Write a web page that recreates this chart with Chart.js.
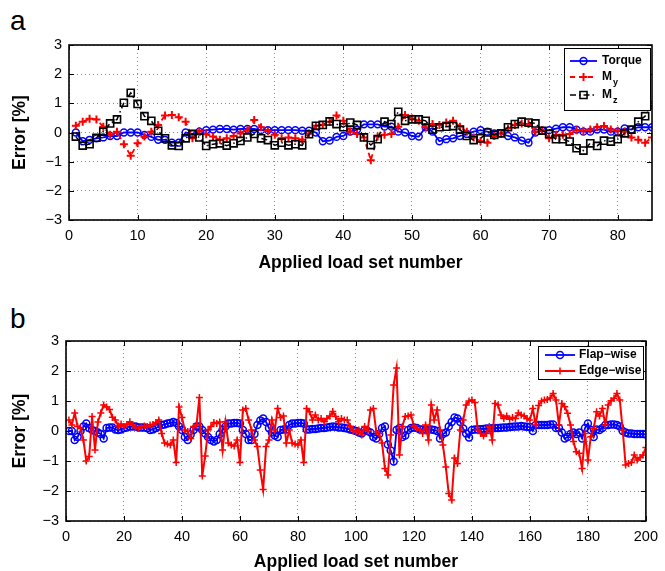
<!DOCTYPE html>
<html>
<head>
<meta charset="utf-8">
<script src="https://cdn.jsdelivr.net/npm/chart.js@4.4.1/dist/chart.umd.min.js"></script>
<style>
body { margin:0; background:#fff; width:665px; height:571px; overflow:hidden; position:relative; font-family:"Liberation Sans", Arial, sans-serif; }
canvas { position:absolute; left:0; }
#c1 { top:0; }
#c2 { top:285px; }
.panel { position:absolute; left:10px; font-size:28px; line-height:1; color:#000; }
</style>
</head>
<body>
<div class="panel" style="top:7px">a</div>
<div class="panel" style="top:305px">b</div>
<canvas id="c1" width="665" height="285"></canvas>
<canvas id="c2" width="665" height="286"></canvas>
<script>
// ---- data, panel a (85 load sets)
var torque = [0,-0.3,-0.25,-0.2,-0.17,-0.12,-0.12,0,0,0,
  -0.08,-0.15,-0.25,-0.25,-0.35,-0.35,0,-0.05,0.03,0.08,
  0.1,0.12,0.12,0.1,0.12,0.12,0.12,0.08,0.08,0.08,
  0.08,0.08,0.08,0.06,0.06,0,-0.3,-0.28,-0.15,-0.12,
  0.03,0.1,0.28,0.28,0.28,0.2,0.2,0.03,0,-0.12,
  -0.14,0.18,0.03,-0.3,-0.23,-0.2,-0.12,-0.05,0.03,0.08,
  0.03,-0.03,-0.03,-0.12,-0.17,-0.28,-0.35,0,0.06,0.08,
  0.13,0.18,0.18,0.1,0.03,0.03,0.1,0.1,0.03,0.03,
  0.14,0.1,0.18,0.18,0.18]
var my = [0.23,0.37,0.47,0.45,0.2,-0.08,0.03,-0.4,-0.8,-0.37,
  -0.14,0.03,0.26,0.58,0.6,0.52,0.37,-0.2,0.05,-0.06,
  -0.14,-0.25,-0.2,-0.12,-0.03,0.08,0.43,0.18,0.05,-0.08,
  -0.2,-0.17,-0.2,-0.25,-0.03,0.23,0.26,0.37,0.58,0.4,
  0.03,-0.05,-0.17,-0.95,-0.14,-0.08,-0.05,0.2,0.6,0.48,
  0.4,0.18,0.29,0.26,0.34,0.4,0.2,0.03,-0.17,-0.3,
  -0.35,-0.12,-0.03,0.14,0.26,0.31,0.29,0.03,0.08,-0.2,
  -0.08,-0.08,-0.05,0.08,0.06,0.1,0.18,0.22,0.1,0.06,
  0.03,-0.17,-0.25,-0.35,-0.17]
var mz = [-0.14,-0.45,-0.4,-0.18,0.03,0.31,0.45,1.02,1.36,0.98,
  0.56,0.4,0.06,-0.2,-0.44,-0.46,-0.2,-0.05,-0.17,-0.46,
  -0.4,-0.37,-0.45,-0.37,-0.29,-0.17,-0.05,-0.2,-0.26,-0.44,
  -0.35,-0.44,-0.4,-0.44,-0.06,0.23,0.26,0.38,0.29,0.18,
  0.34,0.26,-0.17,-0.43,-0.23,0.37,0.29,0.71,0.4,0.45,
  0.45,0.4,0.1,0.18,0.2,0.22,0.1,-0.12,-0.26,-0.2,
  0,-0.08,-0.03,0.18,0.29,0.37,0.34,0.31,0.06,-0.05,
  -0.23,-0.23,-0.31,-0.54,-0.62,-0.37,-0.46,-0.28,-0.31,-0.23,
  -0.03,0.1,0.37,0.56,0.94]

// ---- data, panel b (200 load sets)
var flap = [0,0,-0.3,-0.2,0,0.15,0.25,0.1,0.03,0,
  -0.05,-0.1,-0.25,0.1,0.12,0.12,0.05,0.03,0.05,0.1,
  0.12,0.15,0.15,0.15,0.12,0.12,0.12,0.1,0.03,0.05,
  0.1,0.15,0.2,0.22,0.25,0.27,0.3,0.27,0.15,0.03,
  -0.2,-0.3,-0.12,0.03,0.15,0.15,0.03,-0.08,-0.2,-0.3,
  -0.35,-0.3,-0.1,0.05,0.15,0.25,0.25,0.27,0.27,0.25,
  0.03,-0.1,-0.3,-0.3,-0.1,0.2,0.35,0.42,0.3,0.1,
  -0.05,-0.15,-0.2,0.03,0.05,0.05,0.2,0.25,0.25,0.27,
  0.27,0.25,0.05,0.05,0.07,0.07,0.08,0.1,0.1,0.12,
  0.13,0.15,0.14,0.12,0.12,0.1,0.08,0.05,0.03,0,
  -0.05,-0.08,0.03,0,-0.05,-0.2,-0.25,-0.1,0.1,0.15,
  -0.45,-0.65,-1.02,0.03,0.1,-0.2,-0.15,0.03,0.1,0.12,
  0.1,0.05,0.05,0.03,0.05,0.05,0.03,0,-0.25,-0.1,
  -0.05,0.15,0.3,0.45,0.42,0.3,0.08,-0.08,-0.22,0.03,
  0.05,0.05,0.06,0.07,0.08,0.08,0.09,0.1,0.1,0.11,
  0.12,0.12,0.13,0.14,0.15,0.15,0.17,0.15,0.14,0.13,
  0,0.2,0.2,0.2,0.2,0.2,0.22,0.22,0.1,0.1,
  -0.05,-0.25,-0.2,-0.1,-0.05,-0.1,-0.05,-0.25,0.1,0.25,
  0.03,-0.2,0.05,0.03,0.1,0.2,0.2,0.22,0.22,0.2,
  0.15,0,-0.05,-0.08,-0.08,-0.1,-0.1,-0.1,-0.1,-0.12]
var edge = [0.37,0.2,0.6,0.15,0.1,-0.3,-1.0,-0.85,0.48,-0.63,
  0.3,0.6,0.87,0.8,0.72,0.46,0.37,0.17,0.23,0.15,
  0.22,0.31,0.2,0.12,0.08,0.15,0.17,0.15,0.2,0.22,
  0.28,0.37,-0.08,-0.4,-0.43,-0.47,-0.3,-1.05,0.8,0.45,
  0.03,-0.02,-0.25,0.15,0.2,1.12,-1.5,-0.83,0.03,0.15,
  0.28,0.25,0.3,-0.63,0.31,-0.4,-0.47,-0.5,-0.3,-1.05,
  0.7,0.75,0.37,0.03,-0.3,-0.52,-1.3,-1.95,-0.52,-0.3,
  0.37,0.03,0.75,0.45,0.5,-0.4,0.03,-0.4,-0.43,-0.47,
  -0.3,-1.05,0.75,0.64,0.37,0.53,0.37,0.42,0.31,0.42,
  0.5,0.65,0.48,0.31,0.42,0.37,0.37,0.15,0,-0.02,
  0.03,-0.13,0.15,0,0.7,0.75,-0.02,-0.08,-0.4,-1.25,
  -1.47,-0.13,1.53,2.1,-0.8,0.15,0.48,0.5,0.53,0.15,
  0.09,0.03,-0.08,0.2,-0.3,0.87,0.37,0.7,0.03,-0.47,
  -1.2,-2.08,-2.3,-0.9,-1.08,0.03,0.37,0.87,1.0,1.03,
  0.95,0.03,-0.08,-0.17,-0.08,0.15,-0.3,0.92,0.87,0.53,
  0.42,0.5,0.39,0.45,0.42,0.6,0.53,0.5,0.42,0.37,
  0.75,0.2,0.85,1.0,1.03,1.05,1.1,1.25,1.03,0.2,
  0.92,0.81,0.59,0.2,-0.35,-0.69,-0.74,-1.25,-0.08,-0.97,
  -0.19,0.09,0.64,0.5,0.75,0.2,0.87,1.01,1.09,1.25,
  1.03,0.03,-1.13,-1.08,-1.05,-0.8,-0.97,-0.88,-0.8,-0.55]

var yTicks = [-3,-2,-1,0,1,2,3]
var xTicksA = [0,10,20,30,40,50,60,70,80]
var xTicksB = [0,20,40,60,80,100,120,140,160,180,200]

const FONT = '"Liberation Sans", Arial, sans-serif'

// load set numbers are just 1..n
function pts(vals){
    return vals.map(function(v, i){ return {x: i + 1, y: v} })
}

function drawMark(ctx, style, x, y, r){
    ctx.beginPath()
    if (style == 'circle') {
        ctx.arc(x, y, r, 0, Math.PI * 2)
    } else if (style == 'cross') {
        ctx.moveTo(x - r, y); ctx.lineTo(x + r, y)
        ctx.moveTo(x, y - r); ctx.lineTo(x, y + r)
    } else {
        var s = r * Math.SQRT1_2
        ctx.rect(x - s, y - s, 2 * s, 2 * s)
    }
    ctx.stroke()
}

// box round the axes + inward tick marks (matlab look)
const frame = {
    id: 'frame',
    afterDraw(chart){
        var ctx = chart.ctx, a = chart.chartArea
        var sx = chart.scales.x, sy = chart.scales.y
        ctx.save()
        ctx.strokeStyle = '#000'
        ctx.lineWidth = 1
        ctx.beginPath()
        sx.ticks.forEach(function(t){
            var p = Math.round(sx.getPixelForValue(t.value)) + 0.5
            ctx.moveTo(p, a.bottom); ctx.lineTo(p, a.bottom - 5)
            ctx.moveTo(p, a.top); ctx.lineTo(p, a.top + 5)
        })
        sy.ticks.forEach(function(t){
            var p = Math.round(sy.getPixelForValue(t.value)) + 0.5
            ctx.moveTo(a.left, p); ctx.lineTo(a.left + 5, p)
            ctx.moveTo(a.right, p); ctx.lineTo(a.right - 5, p)
        })
        ctx.stroke()
        ctx.lineWidth = 1.6
        ctx.strokeRect(a.left, a.top, a.right - a.left, a.bottom - a.top)
        ctx.restore()
    }
}

function legendBox(box, rows){
    return {
        id: 'legendBox',
        afterDraw(chart){
            var ctx = chart.ctx
            ctx.save()
            ctx.fillStyle = '#fff'
            ctx.fillRect(box.x, box.y, box.w, box.h)
            ctx.strokeStyle = '#000'
            ctx.lineWidth = 1
            ctx.strokeRect(box.x + 0.5, box.y + 0.5, box.w, box.h)
            rows.forEach(function(r){
                ctx.strokeStyle = r.color
                ctx.lineWidth = r.width
                ctx.setLineDash(r.dash)
                ctx.beginPath()
                ctx.moveTo(box.l0, r.y); ctx.lineTo(box.l1, r.y)
                ctx.stroke()
                ctx.setLineDash([])
                ctx.lineWidth = r.markW
                drawMark(ctx, r.style, (box.l0 + box.l1) / 2, r.y, r.radius)
                ctx.fillStyle = '#000'
                ctx.textBaseline = 'middle'
                ctx.textAlign = 'left'
                ctx.font = 'bold 12px ' + FONT
                ctx.fillText(r.label, box.tx, r.y)
                if (r.sub) {
                    var w = ctx.measureText(r.label).width
                    ctx.font = 'bold 9px ' + FONT
                    ctx.fillText(r.sub, box.tx + w + 1, r.y + 6)
                }
            })
            ctx.restore()
        }
    }
}

function axes(xmax, xTicks, yWidth, xHeight, xTitlePad){
    var tickFont = {family: FONT, size: 14.5}
    var titleFont = {family: FONT, size: 17.5, weight: 'bold', lineHeight: 1}
    return {
        x: {
            type: 'linear', min: 0, max: xmax,
            afterBuildTicks: function(s){ s.ticks = xTicks.map(function(v){ return {value: v} }) },
            afterFit: function(s){ s.height = xHeight },
            ticks: {font: tickFont, color: '#000', padding: 7, maxRotation: 0, autoSkip: false},
            grid: {color: '#8a8a8a', lineWidth: 1, drawTicks: false},
            border: {display: false, dash: [1, 3]},
            title: {display: true, text: 'Applied load set number', font: titleFont, color: '#000', padding: {top: 0, bottom: xTitlePad}}
        },
        y: {
            min: -3, max: 3,
            afterBuildTicks: function(s){ s.ticks = yTicks.map(function(v){ return {value: v} }) },
            afterFit: function(s){ s.width = yWidth },
            ticks: {font: tickFont, color: '#000', padding: 7,
                callback: function(v){ return String(v).replace('-', '\u2212') }},
            grid: {color: '#8a8a8a', lineWidth: 1, drawTicks: false},
            border: {display: false, dash: [1, 3]},
            title: {display: true, text: 'Error [%]', font: titleFont, color: '#000', padding: {top: 11.25, bottom: 0}}
        }
    }
}

var common = {
    responsive: false,
    animation: false,
    devicePixelRatio: 1,
    events: [],
    plugins: {legend: {display: false}, tooltip: {enabled: false}},
    elements: {line: {tension: 0}}
}

// ---- panel a
var chartA = new Chart(document.getElementById('c1').getContext('2d'), {
    type: 'line',
    data: {
        datasets: [{
            label: 'Torque', data: pts(torque), order: 3,
            borderColor: '#0000ff', borderWidth: 1.8,
            pointStyle: 'circle', pointRadius: 3.4, pointBorderWidth: 1.5,
            pointBorderColor: '#0000ff', pointBackgroundColor: 'rgba(0,0,0,0)'
        }, {
            label: 'My', data: pts(my), order: 2,
            borderColor: '#ff0000', borderWidth: 1.8, borderDash: [5, 4],
            pointStyle: 'cross', pointRadius: 4, pointBorderWidth: 2,
            pointBorderColor: '#ff0000'
        }, {
            label: 'Mz', data: pts(mz), order: 1,
            borderColor: '#000000', borderWidth: 1.5, borderDash: [6, 3, 1.5, 3],
            pointStyle: 'rect', pointRadius: 5, pointBorderWidth: 1.6,
            pointBorderColor: '#000000', pointBackgroundColor: 'rgba(0,0,0,0)'
        }]
    },
    options: Object.assign({}, common, {
        layout: {padding: {top: 45, right: 13, left: 0, bottom: 0}},
        scales: axes(85, xTicksA, 69, 65, 13.25)
    }),
    plugins: [frame, legendBox(
        {x: 564, y: 48, w: 86, h: 62, l0: 570, l1: 597, tx: 602},
        [
            {label: 'Torque', y: 61, color: '#0000ff', width: 1.8, dash: [], style: 'circle', radius: 3.4, markW: 1.5},
            {label: 'M', sub: 'y', y: 77, color: '#ff0000', width: 1.8, dash: [5, 4], style: 'cross', radius: 4, markW: 2},
            {label: 'M', sub: 'z', y: 95, color: '#000000', width: 1.5, dash: [6, 3, 1.5, 3], style: 'rect', radius: 5, markW: 1.6}
        ])]
})

// ---- panel b
var chartB = new Chart(document.getElementById('c2').getContext('2d'), {
    type: 'line',
    data: {
        datasets: [{
            label: 'Flap\u2212wise', data: pts(flap), order: 2,
            borderColor: '#0000ff', borderWidth: 1.8,
            pointStyle: 'circle', pointRadius: 3.5, pointBorderWidth: 1.5,
            pointBorderColor: '#0000ff', pointBackgroundColor: 'rgba(0,0,0,0)'
        }, {
            label: 'Edge\u2212wise', data: pts(edge), order: 1,
            borderColor: '#ff0000', borderWidth: 2,
            pointStyle: 'cross', pointRadius: 3.5, pointBorderWidth: 1.5,
            pointBorderColor: '#ff0000'
        }]
    },
    options: Object.assign({}, common, {
        layout: {padding: {top: 56, right: 16, left: 0, bottom: 0}},
        scales: axes(200, xTicksB, 66, 50, 0)
    }),
    plugins: [frame, legendBox(
        {x: 538, y: 61, w: 105, h: 33, l0: 545, l1: 575, tx: 579},
        [
            {label: 'Flap\u2212wise', y: 70, color: '#0000ff', width: 1.8, dash: [], style: 'circle', radius: 3.5, markW: 1.5},
            {label: 'Edge\u2212wise', y: 86, color: '#ff0000', width: 2, dash: [], style: 'cross', radius: 3.5, markW: 1.5}
        ])]
})
</script>
</body>
</html>
